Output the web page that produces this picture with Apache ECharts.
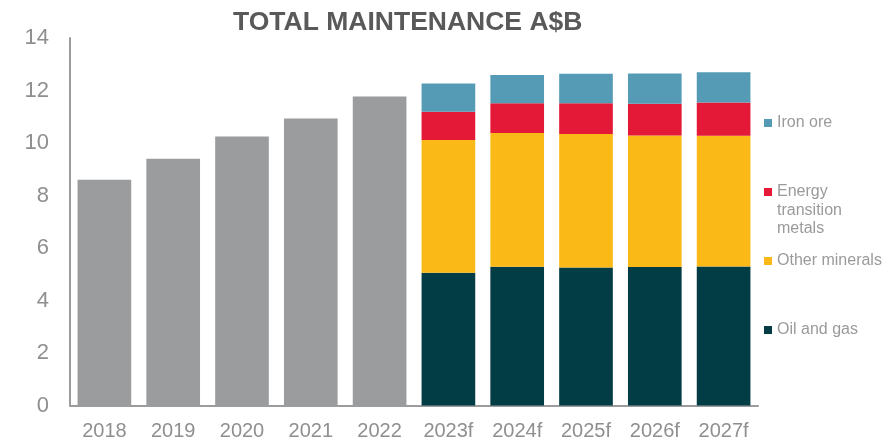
<!DOCTYPE html>
<html>
<head>
<meta charset="utf-8">
<script src="https://cdn.jsdelivr.net/npm/echarts@6/dist/echarts.min.js"></script>
<style>html,body{margin:0;padding:0;background:#fff}#c{width:894px;height:443px}</style>
</head>
<body>
<div id="c"></div>
<script>
const categories = ['2018','2019','2020','2021','2022','2023f','2024f','2025f','2026f','2027f'];
const totalHist = [8.6, 9.4, 10.25, 10.93, 11.77, '-', '-', '-', '-', '-'];
const oilGas = ['-', '-', '-', '-', '-', 5.06, 5.29, 5.26, 5.28, 5.30];
const otherMinerals = ['-', '-', '-', '-', '-', 5.05, 5.09, 5.08, 5.01, 4.98];
const energyTransition = ['-', '-', '-', '-', '-', 1.08, 1.13, 1.17, 1.21, 1.26];
const ironOre = ['-', '-', '-', '-', '-', 1.08, 1.08, 1.13, 1.15, 1.16];
const yTicks = [0, 2, 4, 6, 8, 10, 12, 14];

const FONT = 'Liberation Sans, Arial, sans-serif';
const colors = { total: '#9b9c9e', oil: '#023c45', other: '#fbb917', energy: '#e31937', iron: '#559bb5' };

function legendAt(name, top) {
  return {
    data: [name], left: 764, top: top, padding: 0, orient: 'vertical',
    icon: 'rect', itemWidth: 8, itemHeight: 8, selectedMode: false,
    textStyle: { fontFamily: FONT, fontSize: 16, color: '#9a9a9a', lineHeight: 18 }
  };
}

const chart = echarts.init(document.getElementById('c'), null, { renderer: 'canvas' });
chart.setOption({
  animation: false,
  title: {
    text: 'TOTAL MAINTENANCE A$B', left: 233, top: 9, padding: 0,
    textStyle: { fontFamily: FONT, fontSize: 26.5, fontWeight: 'bold', color: '#595959' }
  },
  legend: [
    legendAt('Iron ore', 114),
    legendAt('Energy', 183),
    legendAt('Other minerals', 252),
    legendAt('Oil and gas', 321)
  ],
  graphic: [{
    type: 'text', left: 777, top: 202,
    style: { text: 'transition\nmetals', fontFamily: FONT, fontSize: 16, lineHeight: 18, fill: '#9a9a9a' }
  }],
  grid: { left: 70, right: 136, top: 38, bottom: 37.5, containLabel: false },
  xAxis: {
    type: 'category', data: categories,
    axisLine: { lineStyle: { color: '#9b9c9e', width: 2 } },
    axisTick: { show: false },
    axisLabel: { fontFamily: FONT, fontSize: 20, color: '#8f8f8f', margin: 16 }
  },
  yAxis: {
    type: 'value', min: yTicks[0], max: yTicks[yTicks.length - 1], interval: 2,
    axisLine: { show: true, lineStyle: { color: '#9b9c9e', width: 2 } },
    axisTick: { show: false },
    splitLine: { show: false },
    axisLabel: { fontFamily: FONT, fontSize: 22, color: '#8f8f8f', margin: 21 }
  },
  series: [
    { name: 'Total', type: 'bar', stack: 's', data: totalHist, barCategoryGap: '22%', itemStyle: { color: colors.total } },
    { name: 'Oil and gas', type: 'bar', stack: 's', data: oilGas, itemStyle: { color: colors.oil } },
    { name: 'Other minerals', type: 'bar', stack: 's', data: otherMinerals, itemStyle: { color: colors.other } },
    { name: 'Energy', type: 'bar', stack: 's', data: energyTransition, itemStyle: { color: colors.energy } },
    { name: 'Iron ore', type: 'bar', stack: 's', data: ironOre, itemStyle: { color: colors.iron } }
  ]
});
</script>
</body>
</html>
